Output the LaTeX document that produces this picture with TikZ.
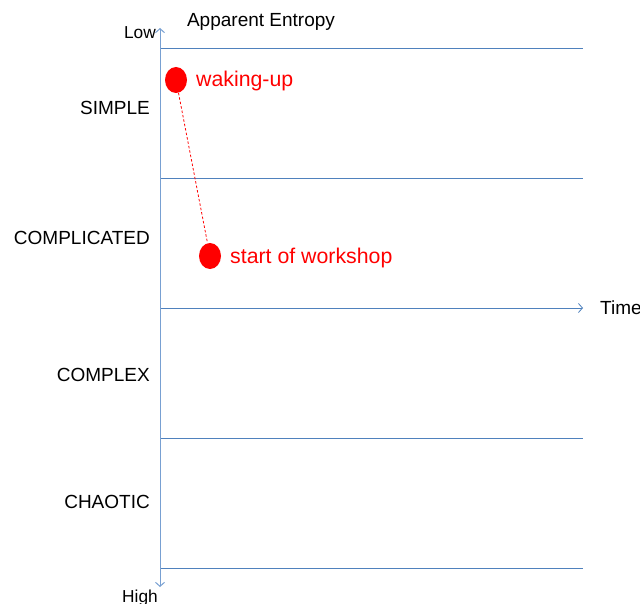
\documentclass[tikz,border=0pt]{standalone}
\usepackage{fontspec}
\setmainfont{Liberation Sans}
\usetikzlibrary{arrows.meta,shapes.geometric}
\definecolor{gridblue}{RGB}{79,129,189}
\definecolor{axisblue}{RGB}{120,160,210}
\definecolor{markred}{RGB}{255,0,0}
\tikzset{
  band/.style={draw=gridblue, line width=0.8pt},
  axisline/.style={draw=axisblue, line width=1pt},
  cat/.style={anchor=east, inner sep=0pt, font=\fontsize{19}{21}\selectfont},
  small/.style={inner sep=0pt, font=\fontsize{17.3}{19}\selectfont},
  dot/.style={ellipse, fill=markred, minimum width=22pt, minimum height=26pt, inner sep=0pt},
  redtext/.style={anchor=base west, inner sep=0pt, text=markred, font=\fontsize{21.3}{23}\selectfont}
}
\begin{document}
\begin{tikzpicture}[x=1pt, y=-1pt]
  \useasboundingbox (0,0) rectangle (640,604);

  % axis end points and band boundaries
  \coordinate (top) at (160,28);
  \coordinate (bottom) at (160,587);
  \coordinate (l1) at (160,48);   \coordinate (r1) at (583,48);
  \coordinate (l2) at (160,178);  \coordinate (r2) at (583,178);
  \coordinate (l3) at (160,308);  \coordinate (r3) at (583,308);
  \coordinate (l4) at (160,438);  \coordinate (r4) at (583,438);
  \coordinate (l5) at (160,568);  \coordinate (r5) at (583,568);

  % horizontal band lines
  \draw[band] (l1) -- (r1);
  \draw[band] (l2) -- (r2);
  \draw[band, -{Straight Barb[length=4pt, width=9pt]}] (l3) -- (r3);
  \draw[band] (l4) -- (r4);
  \draw[band] (l5) -- (r5);

  % entropy axis, open at both ends
  \draw[axisline, {Straight Barb[length=4pt, width=9pt]}-{Straight Barb[length=4pt, width=9pt]}] (bottom) -- (top);

  % axis labels
  \node[small, anchor=base east] (low) at (156,39) {Low};
  \node[small, anchor=base] (high) at (140,602) {High};
  \node[cat, anchor=base] (title) at (261,27) {Apparent Entropy};
  \node[cat, anchor=west] (time) at (600,308) {Time};

  % domain labels
  \node[cat] (simple) at (150,108) {SIMPLE};
  \node[cat] (complicated) at (150,238) {COMPLICATED};
  \node[cat] (complex) at (150,375) {COMPLEX};
  \node[cat] (chaotic) at (150,502) {CHAOTIC};

  % trajectory markers
  \node[dot] (wake) at (176,80) {};
  \node[dot] (start) at (210,256) {};
  \draw[markred, line width=0.8pt, dash pattern=on 2.5pt off 2pt] (wake) -- (start);
  \node[redtext] (wakelbl) at (196,87) {waking-up};
  \node[redtext] (startlbl) at (230,264) {start of workshop};
\end{tikzpicture}
\end{document}
